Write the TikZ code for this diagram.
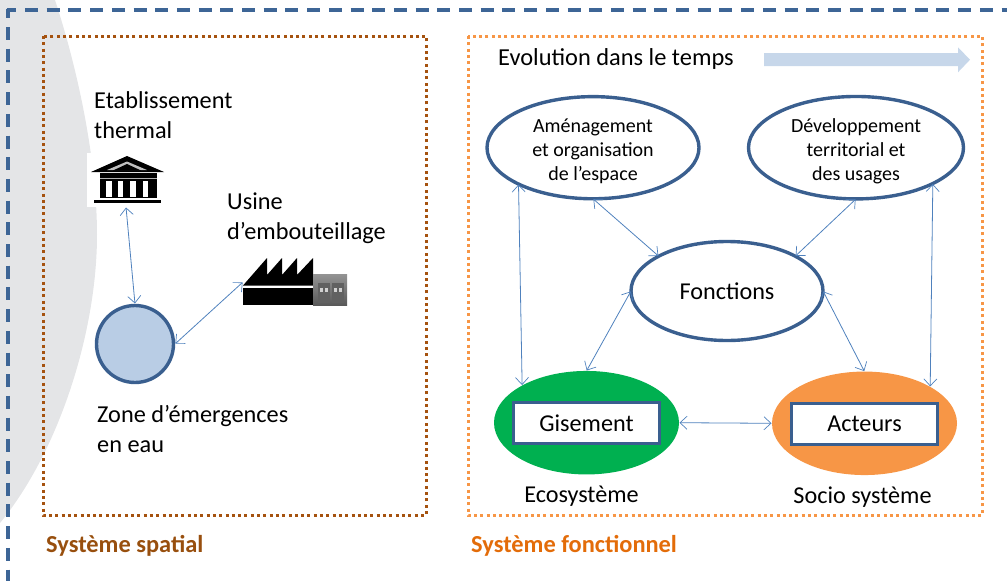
\documentclass[tikz,border=0pt]{standalone}
\usepackage{fontspec}
\setmainfont{Carlito}
\usepackage{xcolor}
\usetikzlibrary{arrows.meta,shapes.geometric,positioning}
\definecolor{cadre}{HTML}{3D6596}
\definecolor{bord}{HTML}{3A5F8F}
\definecolor{fleche}{HTML}{4F81BD}
\definecolor{brun}{HTML}{A5520F}
\definecolor{brunt}{HTML}{984F0E}
\definecolor{orange1}{HTML}{F79646}
\definecolor{oranget}{HTML}{E36C09}
\definecolor{vert}{HTML}{00B050}
\definecolor{grisfond}{HTML}{E4E5E7}
\newcommand{\hautligne}{\rule{0pt}{21pt}}
\tikzset{
	outer/.style={draw=cadre,line width=3.4pt,dash pattern=on 13pt off 8.7pt,dash phase=3.2pt},
	cadre spatial/.style={draw=#1,line width=3pt,dash pattern=on 3pt off 3.3pt},
	txt/.style={font=\fontsize{24.3}{30}\selectfont,align=left,anchor=north west,inner sep=0pt},
	small/.style={font=\fontsize{20}{24}\selectfont,align=center},
	big/.style={font=\fontsize{24.2}{26}\selectfont},
	titre/.style={font=\fontsize{24.4}{26}\selectfont\bfseries,anchor=west,inner sep=0pt},
	oval/.style={ellipse,draw=bord,line width=3.4pt,fill=white,inner sep=0pt,outer sep=0pt},
	fond/.style={ellipse,fill=#1,inner sep=0pt,outer sep=0pt,minimum width=185pt,minimum height=103.5pt},
	boite/.style={rectangle,draw=bord,line width=3.4pt,fill=white,minimum width=146pt,minimum height=41pt,big},
	lien/.style={draw=fleche,line width=.8pt,{Straight Barb[length=7pt,width=13pt,line width=.7pt]}-{Straight Barb[length=7pt,width=13pt,line width=.7pt]},shorten <=.5pt,shorten >=.5pt}
}
\begin{document}
\begin{tikzpicture}[x=1pt,y=-1pt]
	\useasboundingbox (0,0) rectangle (1007,581);
	% zone grise
	\fill[grisfond] (0,0) -- (55,0) .. controls (78,70) and (97,160) .. (97,235) .. controls (97,330) and (60,450) .. (0,523) -- cycle;
	% cadre
	\coordinate (haut) at (6.5,10);
	\coordinate (droite) at (1007,10);
	\coordinate (gauche) at (8,8.5);
	\coordinate (bas) at (8,581);
	\draw[outer] (haut) -- (droite);
	\draw[outer] (gauche) -- (bas);
	\draw[cadre spatial=brun] (43,36) rectangle (426,515);
	\draw[cadre spatial=orange1] (468,36) rectangle (982,515);
	\node[titre,text=brunt] (spatial) at (46,546) {Système spatial};
	\node[titre,text=oranget] (fonctionnel) at (471,546) {Système fonctionnel};
	% systeme spatial
	\node[txt] (etab) at (94,91) {Etablissement\\thermal};
	\node[txt] (usinetxt) at (227,193) {Usine\\d’embouteillage};
	\node[txt] (zonetxt) at (97,405) {Zone d’émergences\\en eau};
	\node[circle,draw=bord,line width=3.4pt,fill=fleche!40!white,minimum size=77pt,inner sep=0pt,outer sep=1.5pt] (zone) at (135,344) {};
	\node[fill=white,inner sep=0pt,outer sep=0pt,minimum width=78pt,minimum height=54pt] (thermal) at (126,180) {};
	\node[inner sep=0pt,outer sep=0pt,minimum width=104pt,minimum height=46pt] (usine) at (295,282) {};
	% temple
	\fill (127,156) -- (164,172) -- (91,172) -- cycle;
	\fill[white!75!black] (127,161.5) -- (147,170) -- (107,170) -- cycle;
	\fill (127,164) -- (141,170.5) -- (113,170.5) -- cycle;
	\fill (100,173) rectangle (157,198);
	\fill[white!70!black] (100,177.8) rectangle (157,178.8);
	\foreach \cx in {109,120.5,133,145.5} \fill[white] (\cx-2.7,181) rectangle (\cx+2.7,197);
	\fill (94,199.5) rectangle (161,203);
	% usine
	\fill (243,285.5) -- (267,258) -- (267,275) -- (282,258) -- (282,275) -- (297,258) -- (297,275) -- (313,258) -- (313,285.5) -- cycle;
	\fill (243,287.5) rectangle (313,305);
	\fill[top color=black!42,bottom color=black!65] (313,274) rectangle (347,305);
	\foreach \cx in {323.5,338} {
		\fill[black!62] (\cx-6,283) rectangle (\cx+6,303);
		\fill[black!18] (\cx-4,288) rectangle (\cx-1,292);
		\fill[black!18] (\cx+1,288) rectangle (\cx+4,292);
	}
	\path[lien] (thermal.south) -- (zone.north);
	\path[lien] (zone.east) -- (usine.west);
	% systeme fonctionnel
	\node[txt,font=\fontsize{24.4}{26}\selectfont] (evol) at (498,48) {Evolution dans le temps};
	\fill[fleche!32!white] (764,53) -- (958,53) -- (958,47.3) -- (970,59.7) -- (958,72.3) -- (958,66) -- (764,66) -- cycle;
	\node[oval,small,minimum width=212pt,minimum height=98pt] (amen) at (593,147.7) {\hautligne Aménagement\\et organisation\\de l’espace};
	\node[oval,small,minimum width=215pt,minimum height=98pt] (dev) at (856,147.7) {\hautligne Développement\\territorial et\\des usages};
	\node[oval,big,minimum width=192pt,minimum height=99pt] (fonc) at (727,291) {Fonctions};
	\node[fond=vert] (gis) at (586.5,422.7) {};
	\node[fond=orange1] (act) at (864.5,423.3) {};
	\node[boite] (gisbox) at (586.5,423) {Gisement};
	\node[boite] (actbox) at (864.5,424) {Acteurs};
	\node[big] (eco) at (581.5,496) {Ecosystème};
	\node[big] (socio) at (862.5,497) {Socio système};
	\path[lien] (amen.206) -- (gis.150);
	\path[lien] (amen.south) -- (fonc.153);
	\path[lien] (dev.south) -- (fonc.27);
	\path[lien] (dev.-25) -- (act.29);
	\path[lien] (fonc.west) -- (gis.north);
	\path[lien] (fonc.east) -- (act.north);
	\path[lien] (gis.east) -- (act.west);
\end{tikzpicture}
\end{document}
